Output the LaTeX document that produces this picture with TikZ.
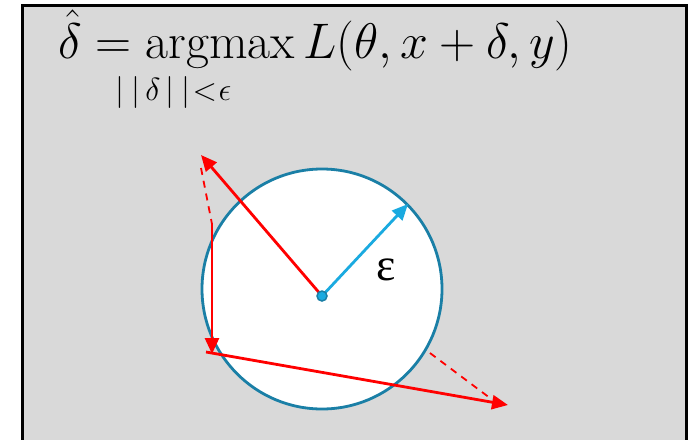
\RequirePackage{fix-cm}
\documentclass[tikz,border=0pt]{standalone}
\usepackage{amsmath}
\usepackage{fontspec}
\newfontfamily\greekserif{Liberation Serif}
\usetikzlibrary{arrows.meta}
\definecolor{boxgray}{HTML}{D9D9D9}
\definecolor{ringblue}{HTML}{1A7FA6}
\definecolor{lightblue}{HTML}{1AAAE0}
\definecolor{pured}{HTML}{FF0000}
\tikzset{
  redarrow/.style={pured, line width=2.8pt, -{Triangle[length=16pt,width=14pt]}},
  reddash/.style={pured, line width=1.8pt, dash pattern=on 7pt off 6pt},
  bluearrow/.style={lightblue, line width=2.8pt, -{Triangle[length=16pt,width=14pt]}},
}
\begin{document}
\begin{tikzpicture}[x=1pt,y=-1pt]
\useasboundingbox (0,0) rectangle (690,439);
% gray panel
\fill[boxgray] (22,5) rectangle (686,445);
\draw[black, line width=3pt] (22,445) -- (22,5) -- (686,5) -- (686,445);
% formula
\node[anchor=base west, inner sep=0pt, font=\fontsize{50}{56}\selectfont] (formula) at (58,58)
  {$\hat{\delta} = \operatorname{argmax} L(\theta, x + \delta, y)$};
\node[anchor=base west, inner sep=0pt, font=\fontsize{32}{36}\selectfont] (constraint) at (115,100)
  {$|\mkern4mu|\mkern3mu\delta\mkern3mu|\mkern4mu|\mkern1mu{<}\mkern1mu\epsilon$};
% circle
\node[circle, draw=ringblue, fill=white, line width=2.8pt, minimum size=240pt, inner sep=0pt] (ball) at (322,289) {};
% coordinates
\coordinate (c) at (322,296);
\coordinate (p1) at (201,155);
\coordinate (d1) at (201,168);
\coordinate (d2) at (212,224);
\coordinate (p2) at (212,354);
\coordinate (q0) at (206,352);
\coordinate (p3) at (508,405);
\coordinate (e1) at (430,353);
\coordinate (e2) at (490,398);
\coordinate (eps) at (408,204);
% arrows
\draw[redarrow] (c) -- (p1);
\draw[reddash] (d1) -- (d2);
\draw[redarrow] (d2) -- (p2);
\draw[redarrow] (q0) -- (p3);
\draw[reddash] (e1) -- (e2);
\draw[bluearrow] (c) -- (eps);
% center dot
\node[circle, fill=lightblue, draw=ringblue, line width=1.5pt, minimum size=10pt, inner sep=0pt] (centerdot) at (c) {};
% epsilon label
\node[inner sep=0pt, font=\greekserif\fontsize{46}{50}\selectfont] (epslabel) at (386,270) {ε};
\end{tikzpicture}
\end{document}
